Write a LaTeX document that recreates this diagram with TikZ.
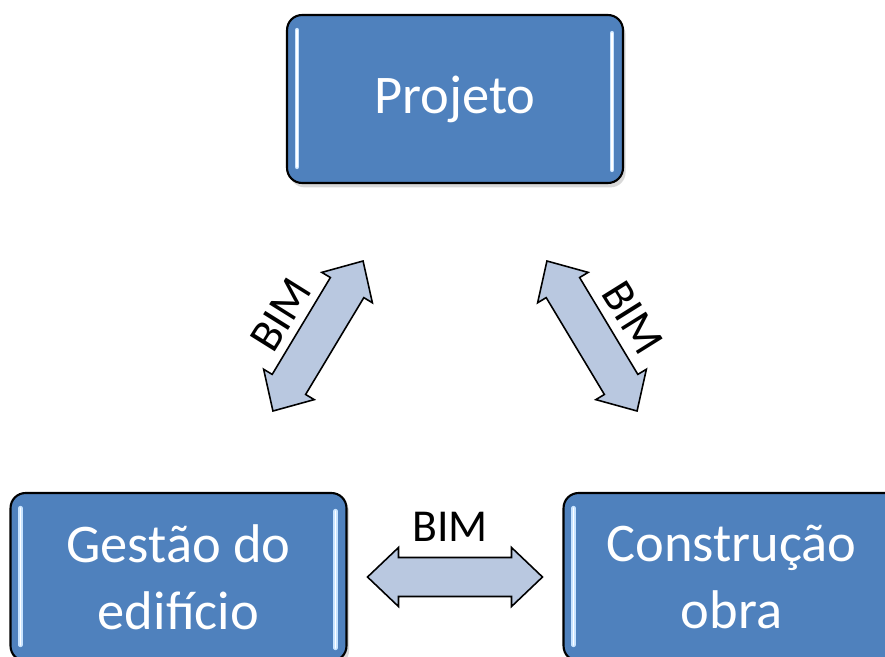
\documentclass[tikz,border=0pt]{standalone}
\usepackage{fontspec}
\setmainfont{Carlito}
\usetikzlibrary{shadows,calc}
\definecolor{boxblue}{HTML}{4F81BD}
\definecolor{arrowblue}{HTML}{B9C8E0}
\definecolor{glow}{HTML}{C9E4FF}
\newcommand{\bigtxt}{\fontsize{31}{38}\selectfont}
\newcommand{\bimtxt}{\fontsize{26}{31}\selectfont}

\begin{document}
\begin{tikzpicture}[x=0.02cm, y=-0.02cm,
	box/.style={draw=black, line width=1.2pt, fill=boxblue, rounded
			corners=0.3cm, minimum width=6.72cm, minimum height=3.36cm,
			text=white, align=center, font=\bigtxt, drop shadow={shadow
					xshift=1.5pt, shadow yshift=-2.5pt, opacity=0.3}},
	hl/.style={glow, line width=2.4pt, line cap=round},
	hlc/.style={white, line width=0.8pt, line cap=round},
	lbl/.style={inner sep=0pt, text=black, font=\bimtxt},
	bimarr/.pic={\draw[fill=arrowblue, line width=0.9pt, line join=miter]
			(-87.5,0) -- (-56.5,29.5) -- (-56.5,19.5) -- (56.5,19.5) --
			(56.5,29.5) -- (87.5,0) -- (56.5,-29.5) -- (56.5,-19.5) --
			(-56.5,-19.5) -- (-56.5,-29.5) -- cycle;}]

	\useasboundingbox (0,0) rectangle (885,656);
	\clip (0,0) rectangle (885,656);

	\node[box] (proj) at (455,99) {Projeto};
	\node[box] (gest) at (178.5,577) {Gestão do\\edifício};
	\node[box] (cons) at (731.5,577) {Construção\\obra};

	\foreach \b in {proj,gest,cons} {
		\draw[hl] ($(\b.north west)+(11,16)$) -- ($(\b.south west)+(11,-17)$);
		\draw[hl] ($(\b.north east)+(-12,19)$) -- ($(\b.south east)+(-12,-14)$);
		\draw[hlc] ($(\b.north west)+(11,16)$) -- ($(\b.south west)+(11,-17)$);
		\draw[hlc] ($(\b.north east)+(-12,19)$) -- ($(\b.south east)+(-12,-14)$);
	}

	\pic[rotate=59] at (318,336) {bimarr};
	\pic[rotate=-59] at (592,336) {bimarr};
	\pic at (455,577) {bimarr};

	\node[lbl] (bimh) at (450,527) {BIM};
	\node[lbl, rotate=58] (biml) at (281,315) {BIM};
	\node[lbl, rotate=-58] (bimr) at (633,318) {BIM};
\end{tikzpicture}
\end{document}
